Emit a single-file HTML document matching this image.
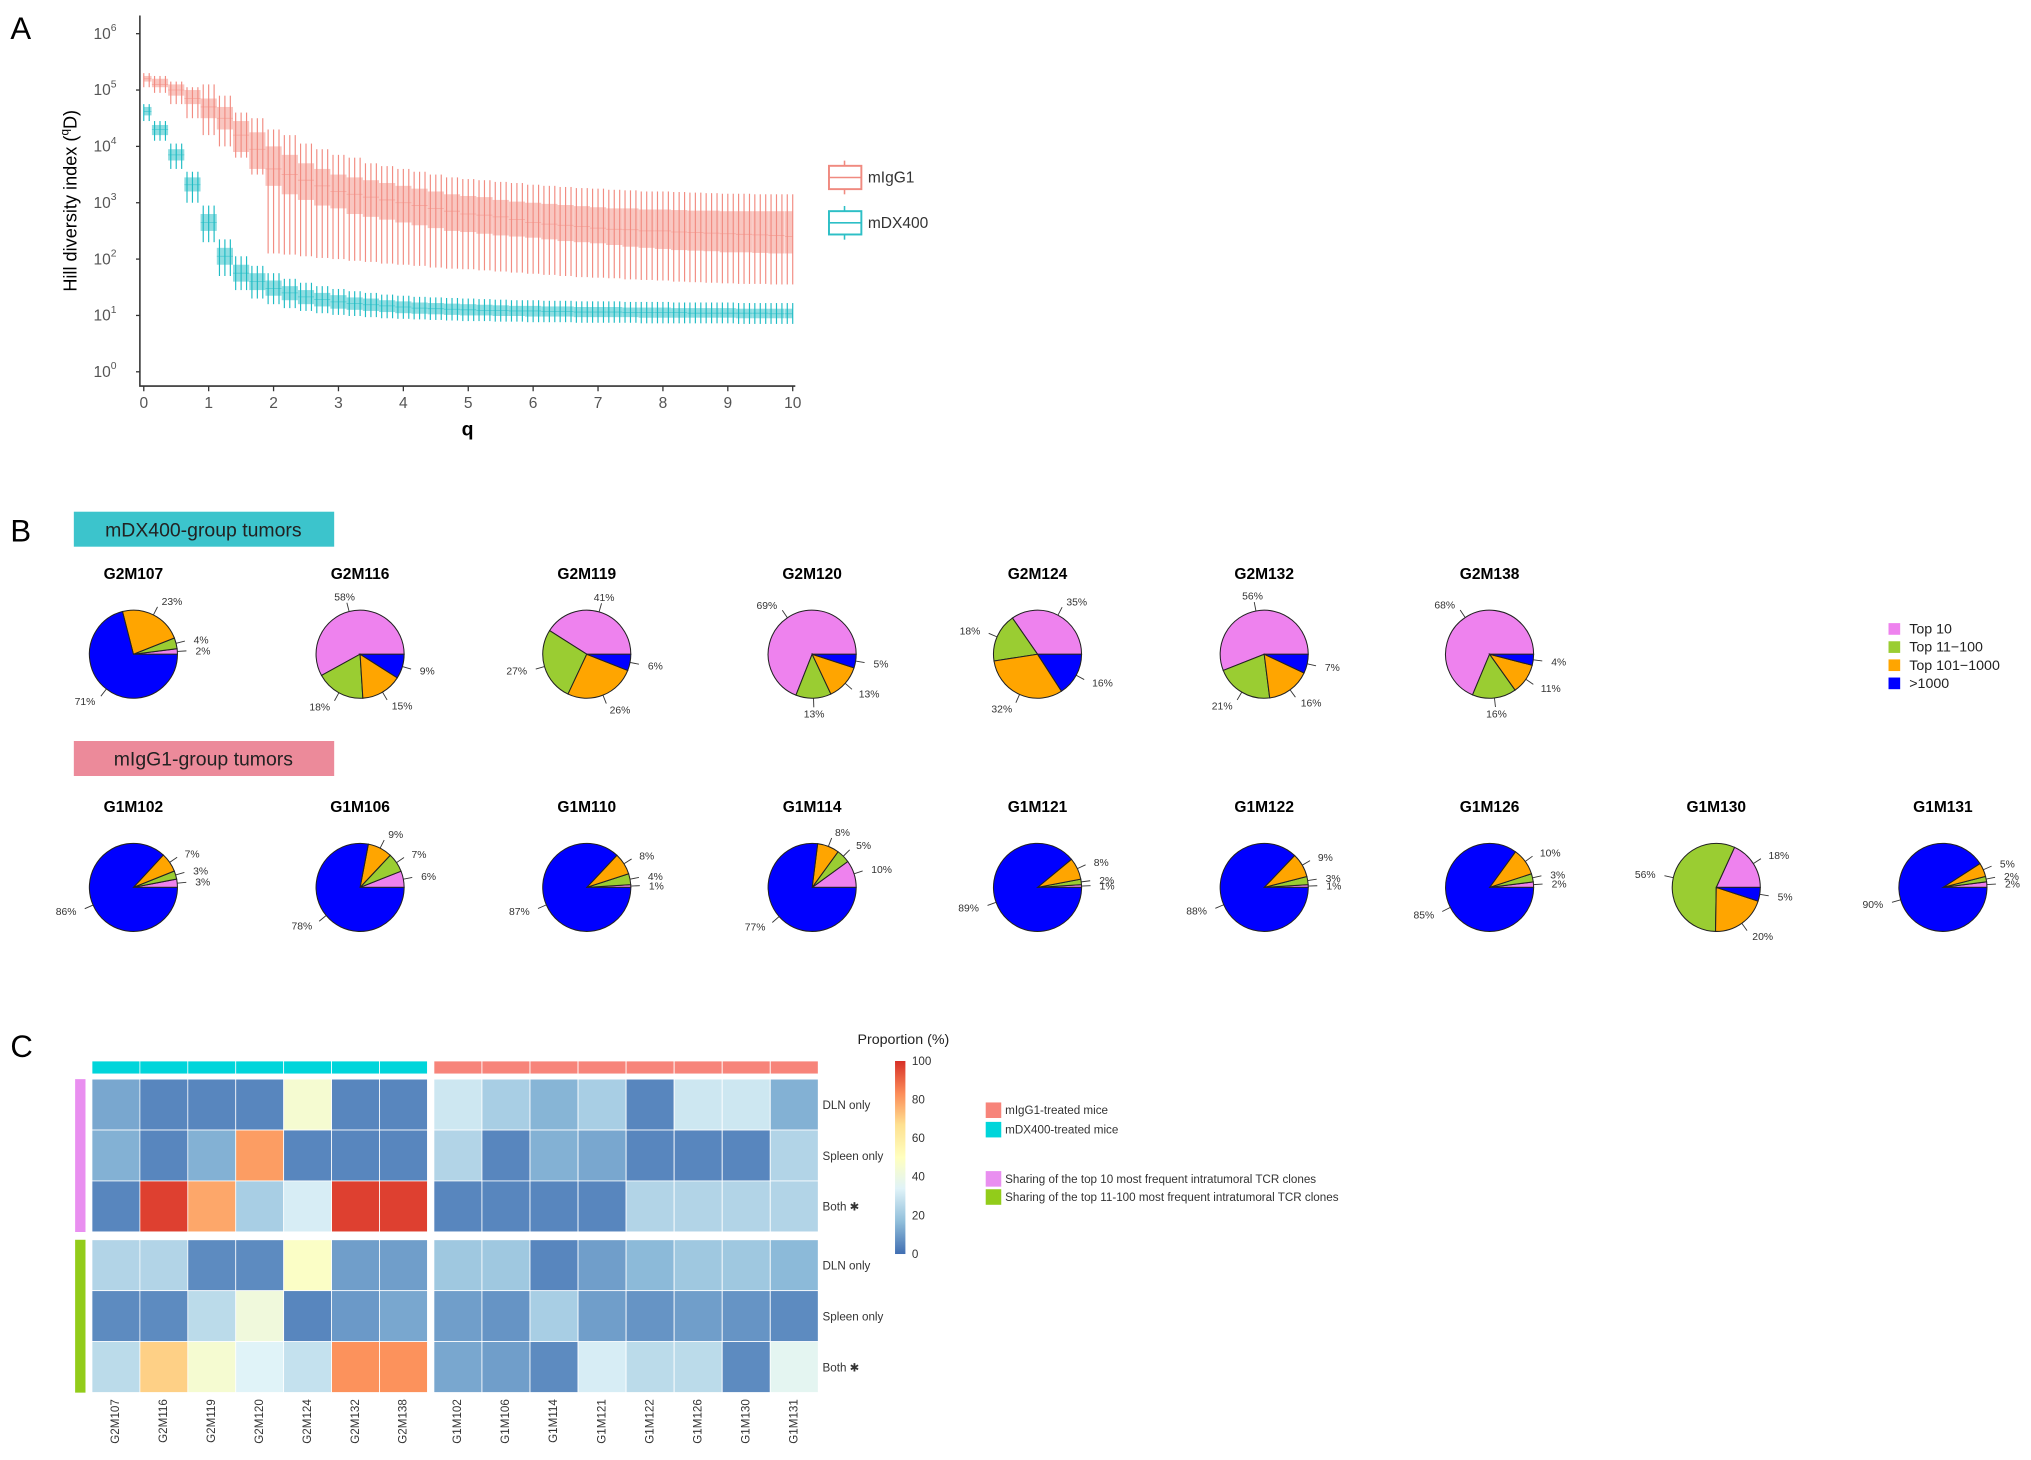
<!DOCTYPE html>
<html><head><meta charset="utf-8"><style>
html,body{margin:0;padding:0;background:#fff;}
svg{display:block;font-family:"Liberation Sans",Arial,sans-serif;}
</style></head><body>
<svg id="fig" width="2031" height="1460" viewBox="0 0 1568 1127" preserveAspectRatio="none" xmlns="http://www.w3.org/2000/svg">
<rect width="1568" height="1127" fill="#fff"/>
<text x="8" y="30" font-size="24">A</text>
<text x="8" y="418" font-size="24">B</text>
<text x="8" y="816" font-size="24">C</text>
<g id="pa"></g>
<g id="pb"></g>
<g id="pc"></g>
</svg>
<script>
const NS="http://www.w3.org/2000/svg";
function mk(p,t,a){const e=document.createElementNS(NS,t);for(const k in a)e.setAttribute(k,a[k]);p.appendChild(e);return e;}
// ---------- Panel A data (log10 values, q step 0.25) ----------
const qValues=[];for(let i=0;i<=40;i++)qValues.push(i*0.25);
const igWhiskHi=[5.3,5.25,5.15,5.05,5.1,4.9,4.6,4.5,4.3,4.2,4.05,3.95,3.85,3.8,3.7,3.65,3.6,3.55,3.5,3.45,3.42,3.4,3.37,3.35,3.32,3.3,3.28,3.26,3.25,3.23,3.22,3.2,3.2,3.19,3.18,3.17,3.16,3.16,3.15,3.15,3.15];
const igBoxHi=[5.25,5.2,5.1,5.0,4.85,4.7,4.45,4.25,4.0,3.85,3.7,3.6,3.5,3.45,3.4,3.35,3.3,3.25,3.2,3.15,3.12,3.1,3.05,3.02,3.0,2.98,2.96,2.94,2.92,2.9,2.9,2.88,2.88,2.87,2.86,2.86,2.85,2.85,2.85,2.85,2.85];
const igMedian=[5.2,5.1,5.0,4.85,4.7,4.5,4.2,3.95,3.6,3.5,3.4,3.3,3.2,3.15,3.1,3.05,3.0,2.95,2.9,2.85,2.8,2.78,2.75,2.7,2.65,2.62,2.6,2.58,2.55,2.53,2.52,2.5,2.5,2.48,2.47,2.46,2.45,2.44,2.43,2.42,2.4];
const igBoxLo=[5.15,5.05,4.9,4.75,4.5,4.3,3.9,3.6,3.3,3.15,3.05,2.95,2.9,2.8,2.75,2.7,2.65,2.6,2.55,2.5,2.48,2.45,2.42,2.4,2.38,2.35,2.32,2.3,2.28,2.25,2.22,2.2,2.18,2.16,2.15,2.14,2.12,2.12,2.11,2.1,2.1];
const igWhiskLo=[5.05,4.95,4.75,4.5,4.2,4.0,3.8,3.5,2.1,2.08,2.05,2.02,2.0,1.97,1.95,1.92,1.9,1.88,1.85,1.83,1.82,1.8,1.78,1.76,1.74,1.72,1.7,1.68,1.67,1.66,1.64,1.63,1.62,1.6,1.59,1.58,1.57,1.56,1.56,1.55,1.55];
const dxWhiskHi=[4.75,4.45,4.05,3.55,2.95,2.35,2.05,1.88,1.75,1.65,1.58,1.52,1.47,1.43,1.4,1.37,1.35,1.33,1.32,1.31,1.3,1.29,1.28,1.27,1.27,1.26,1.26,1.25,1.25,1.25,1.24,1.24,1.24,1.23,1.23,1.23,1.23,1.22,1.22,1.22,1.22];
const dxBoxHi=[4.7,4.38,3.95,3.45,2.8,2.2,1.9,1.75,1.62,1.52,1.45,1.4,1.36,1.32,1.3,1.27,1.25,1.23,1.22,1.21,1.2,1.19,1.18,1.17,1.17,1.16,1.16,1.15,1.15,1.15,1.14,1.14,1.14,1.13,1.13,1.13,1.13,1.12,1.12,1.12,1.12];
const dxMedian=[4.62,4.3,3.85,3.32,2.65,2.05,1.75,1.6,1.48,1.4,1.33,1.28,1.24,1.21,1.19,1.17,1.15,1.13,1.12,1.11,1.1,1.09,1.09,1.08,1.08,1.07,1.07,1.06,1.06,1.06,1.05,1.05,1.05,1.05,1.04,1.04,1.04,1.04,1.04,1.03,1.03];
const dxBoxLo=[4.55,4.2,3.75,3.2,2.5,1.9,1.6,1.45,1.35,1.27,1.2,1.16,1.12,1.1,1.08,1.06,1.04,1.03,1.02,1.01,1.0,1.0,0.99,0.99,0.98,0.98,0.98,0.97,0.97,0.97,0.97,0.96,0.96,0.96,0.96,0.96,0.96,0.95,0.95,0.95,0.95];
const dxWhiskLo=[4.45,4.1,3.6,3.0,2.3,1.7,1.45,1.3,1.2,1.13,1.08,1.04,1.01,0.99,0.97,0.95,0.94,0.93,0.92,0.91,0.9,0.9,0.89,0.89,0.88,0.88,0.88,0.87,0.87,0.87,0.87,0.86,0.86,0.86,0.86,0.86,0.86,0.85,0.85,0.85,0.85];
const xTicks=[0,1,2,3,4,5,6,7,8,9,10];
const yTicks=[0,1,2,3,4,5,6];
(function(){
 const g=document.getElementById('pa');
 const X=q=>111+q*50.1, Y=l=>287-l*43.5;
 const ax=mk(g,'path',{d:'M108,12 V298 H614',stroke:'#333',fill:'none','stroke-width':1.2});
 
 
 yTicks.forEach(t=>{
  mk(g,'line',{x1:105,x2:108,y1:Y(t),y2:Y(t),stroke:'#333'});
  const tx=mk(g,'text',{x:90,y:Y(t)+4,'font-size':12,fill:'#555','text-anchor':'end'});
  
  
  tx.textContent='10';const s=mk(tx,'tspan',{dy:-6,'font-size':8});s.textContent=t;
 });
 xTicks.forEach(t=>{
  mk(g,'line',{x1:X(t),x2:X(t),y1:298,y2:302,stroke:'#333'});
  const tx=mk(g,'text',{x:X(t),y:315,'font-size':12,fill:'#555','text-anchor':'middle'});
  
  
  tx.textContent=t;
 });
 const xt=mk(g,'text',{x:361,y:336,'font-size':15,'font-weight':'bold','text-anchor':'middle'});
 
 
 xt.textContent='q';
 const yt=mk(g,'text',{x:0,y:0,'font-size':14,'text-anchor':'middle',transform:'translate(59,155) rotate(-90)'});
 
 
 yt.textContent='Hill diversity index (';const sp=mk(yt,'tspan',{dy:-6,'font-size':9});sp.textContent='q';const sp2=mk(yt,'tspan',{dy:6});sp2.textContent='D)';
 function series(name,col,fill,wh,bh,md,bl,wl){
  qValues.forEach((q,i)=>{
   const x=X(q);
   const gg=mk(g,'g',{});
   
   
   const w=i===0||i===qValues.length-1?6:12.5;
   const x0=i===0?x:(i===qValues.length-1?x-6:x-6.25);
   mk(gg,'rect',{x:x0,y:Y(bh[i]),width:w,height:Math.max(1,Y(bl[i])-Y(bh[i])),fill:fill,stroke:'none'});
   [-4.2,0,4.2].forEach(d=>{
    const xx=x+d; if(xx<111||xx>612)return;
    mk(gg,'line',{x1:xx,x2:xx,y1:Y(wh[i]),y2:Y(wl[i]),stroke:col,'stroke-width':0.9});
   });
   mk(gg,'line',{x1:x0,x2:x0+w,y1:Y(md[i]),y2:Y(md[i]),stroke:col,'stroke-width':0.6,'stroke-opacity':0.6});
  });
 }
 series('migg1','#f28c82','#f9c6c0',igWhiskHi,igBoxHi,igMedian,igBoxLo,igWhiskLo);
 series('mdx400','#1fbcc4','#8fdde1',dxWhiskHi,dxBoxHi,dxMedian,dxBoxLo,dxWhiskLo);
 [['mIgG1','#f08a80',137],['mDX400','#2dbfc6',172]].forEach(([t,c,y])=>{
  const lg=mk(g,'g',{});
  
  
  mk(lg,'line',{x1:652,x2:652,y1:y-13,y2:y+13,stroke:c,'stroke-width':1.2});
  mk(lg,'rect',{x:640,y:y-9,width:25,height:18,fill:'#fff',stroke:c,'stroke-width':1.5});
  mk(lg,'line',{x1:640,x2:665,y1:y,y2:y,stroke:c,'stroke-width':1.2});
  const tx=mk(lg,'text',{x:670,y:y+4,'font-size':12,fill:'#333'});tx.textContent=t;
 });
})();
// ---------- Panel B data ----------
const pieCategories=['Top 10','Top 11\u2212100','Top 101\u22121000','>1000'];
const pieColors=['#ee82ee','#9acd32','#ffa500','#0000ff'];
const row1Names=['G2M107','G2M116','G2M119','G2M120','G2M124','G2M132','G2M138'];
const row1Values=[[2,4,23,71],[58,18,15,9],[41,27,26,6],[69,13,13,5],[35,18,32,16],[56,21,16,7],[68,16,11,4]];
const row2Names=['G1M102','G1M106','G1M110','G1M114','G1M121','G1M122','G1M126','G1M130','G1M131'];
const row2Values=[[3,3,7,86],[6,7,9,78],[1,4,8,87],[10,5,8,77],[1,2,8,89],[1,3,9,88],[2,3,10,85],[18,56,20,5],[2,2,5,90]];
(function(){
 const g=document.getElementById('pb');
 [['mDX400-group tumors','#3cc4cc',395],['mIgG1-group tumors','#ec8a9a',572]].forEach(([t,c,y])=>{
  const b=mk(g,'g',{});
  
  
  mk(b,'rect',{x:57,y:y,width:201,height:27,fill:c});
  const tx=mk(b,'text',{x:157,y:y+19,'font-size':15,'text-anchor':'middle',fill:'#222'});tx.textContent=t;
 });
 function pie(name,vals,cx,cy){
  const pg=mk(g,'g',{});
  
  
  const r=34;const tot=vals.reduce((a,b)=>a+b,0);
  const tt=mk(pg,'text',{x:cx,y:cy-58,'font-size':12,'font-weight':'bold','text-anchor':'middle'});tt.textContent=name;
  let a0=0;
  vals.forEach((v,i)=>{
   const a1=a0+v/tot*2*Math.PI;
   const p=(a)=>[cx+r*Math.cos(a),cy-r*Math.sin(a)];
   const [x0,y0]=p(a0),[x1,y1]=p(a1);
   const s=mk(pg,'path',{d:`M${cx},${cy} L${x0},${y0} A${r},${r} 0 ${a1-a0>Math.PI?1:0} 0 ${x1},${y1} Z`,fill:pieColors[i],stroke:'#222','stroke-width':0.8});
   
   
   if(v>0){
    const am=(a0+a1)/2,c=Math.cos(am),sn=Math.sin(am);
    mk(pg,'line',{x1:cx+r*c,y1:cy-r*sn,x2:cx+(r+7)*c,y2:cy-(r+7)*sn,stroke:'#333','stroke-width':0.7});
    const lt=mk(pg,'text',{x:cx+(r+14)*c,y:cy-(r+12)*sn+3,'font-size':8,'text-anchor':c>0.3?'start':(c<-0.3?'end':'middle'),fill:'#333'});
    lt.textContent=v+'%';
   }
   a0=a1;
  });
 }
 const r1x=[103,278,453,627,801,976,1150];
 row1Names.forEach((n,i)=>pie(n,row1Values[i],r1x[i],505));
 const r2x=[103,278,453,627,801,976,1150,1325,1500];
 row2Names.forEach((n,i)=>pie(n,row2Values[i],r2x[i],685));
 pieCategories.forEach((c,i)=>{
  const lg=mk(g,'g',{});
  
  
  mk(lg,'rect',{x:1458,y:481+i*14,width:9,height:9,fill:pieColors[i]});
  const t=mk(lg,'text',{x:1474,y:489+i*14,'font-size':11,fill:'#222'});t.textContent=c;
 });
})();
// ---------- Panel C data ----------
const hmColumns=['G2M107','G2M116','G2M119','G2M120','G2M124','G2M132','G2M138','G1M102','G1M106','G1M114','G1M121','G1M122','G1M126','G1M130','G1M131'];
const hmRows=['DLN only','Spleen only','Both','DLN only','Spleen only','Both'];
const hmTop10DLN=[12,5,5,5,45,5,5,30,22,15,22,5,30,30,14];
const hmTop10Spleen=[14,5,14,80,5,5,5,24,5,14,12,5,5,5,24];
const hmTop10Both=[5,97,78,22,32,97,97,5,5,5,5,24,24,24,24];
const hmTop100DLN=[24,24,6,6,48,10,10,20,20,5,10,16,20,20,16];
const hmTop100Spleen=[6,6,26,42,5,9,12,10,8,22,10,8,10,8,6];
const hmTop100Both=[26,70,45,34,28,82,82,12,10,6,32,26,26,6,36];
const colorbarTicks=[0,20,40,60,80,100];
(function(){
 const g=document.getElementById('pc');
 const stops=[[0,[64,110,178]],[17,[145,191,219]],[34,[224,243,248]],[50,[255,255,191]],[67,[254,224,144]],[83,[252,141,89]],[100,[215,48,39]]];
 function col(v){for(let i=1;i<stops.length;i++){if(v<=stops[i][0]){const [a,ca]=stops[i-1],[b,cb]=stops[i];const t=(v-a)/(b-a);return 'rgb('+ca.map((c,k)=>Math.round(c+(cb[k]-c)*t)).join(',')+')';}}return 'rgb(215,48,39)';}
 const cx=i=>i<7?71+i*37:335+(i-7)*37.1;
 const rows=[hmTop10DLN,hmTop10Spleen,hmTop10Both,hmTop100DLN,hmTop100Spleen,hmTop100Both];
 const ry=j=>j<3?833+j*39.3:957+(j-3)*39.3;
 rows.forEach((r,j)=>r.forEach((v,i)=>{
  const c=mk(g,'rect',{x:cx(i),y:ry(j),width:37,height:39.3,fill:col(v),stroke:'#fff','stroke-width':0.6});
  
  
 }));
 hmColumns.forEach((n,i)=>{
  const a=mk(g,'rect',{x:cx(i),y:819,width:37,height:10,fill:i<7?'#00d5da':'#f7847a',stroke:'#fff','stroke-width':0.6});
  
  
  const t=mk(g,'text',{x:0,y:0,'font-size':9,fill:'#333','text-anchor':'end',transform:`translate(${cx(i)+21},1080) rotate(-90)`});
  
  
  t.textContent=n;
 });
 [[833,'#e98ff0'],[957,'#92cc1a']].forEach(([y,c])=>{
  const a=mk(g,'rect',{x:58,y:y,width:8,height:118,fill:c});
  
  
 });
 hmRows.forEach((n,j)=>{
  const t=mk(g,'text',{x:635,y:ry(j)+23,'font-size':9,fill:'#333'});
  
  
  t.textContent=n+(n==='Both'?' \u2731':'');
 });
 const defs=mk(g,'defs',{});const lgd=mk(defs,'linearGradient',{id:'cb',x1:0,y1:1,x2:0,y2:0});
 stops.forEach(([v,c])=>mk(lgd,'stop',{offset:v+'%','stop-color':'rgb('+c.join(',')+')'}));
 const cb=mk(g,'rect',{x:691,y:819,width:8,height:149,fill:'url(#cb)'});
 
 
 const ct=mk(g,'text',{x:662,y:806,'font-size':11,fill:'#222'});ct.textContent='Proportion (%)';
 
 
 colorbarTicks.forEach(t=>{const y=968-t*1.49;const tx=mk(g,'text',{x:704,y:y+3,'font-size':9,fill:'#333'});tx.textContent=t;});
 [['#f7847a','mIgG1-treated mice',857],['#00d5da','mDX400-treated mice',872],['#e98ff0','Sharing of the top 10 most frequent intratumoral TCR clones',910],['#92cc1a','Sharing of the top 11-100 most frequent intratumoral TCR clones',924]].forEach(([c,t,y])=>{
  const lg=mk(g,'g',{});
  
  
  mk(lg,'rect',{x:761,y:y-6,width:12,height:12,fill:c});
  const tx=mk(lg,'text',{x:776,y:y+3,'font-size':9,fill:'#333'});tx.textContent=t;
 });
})();
</script>
</body></html>
